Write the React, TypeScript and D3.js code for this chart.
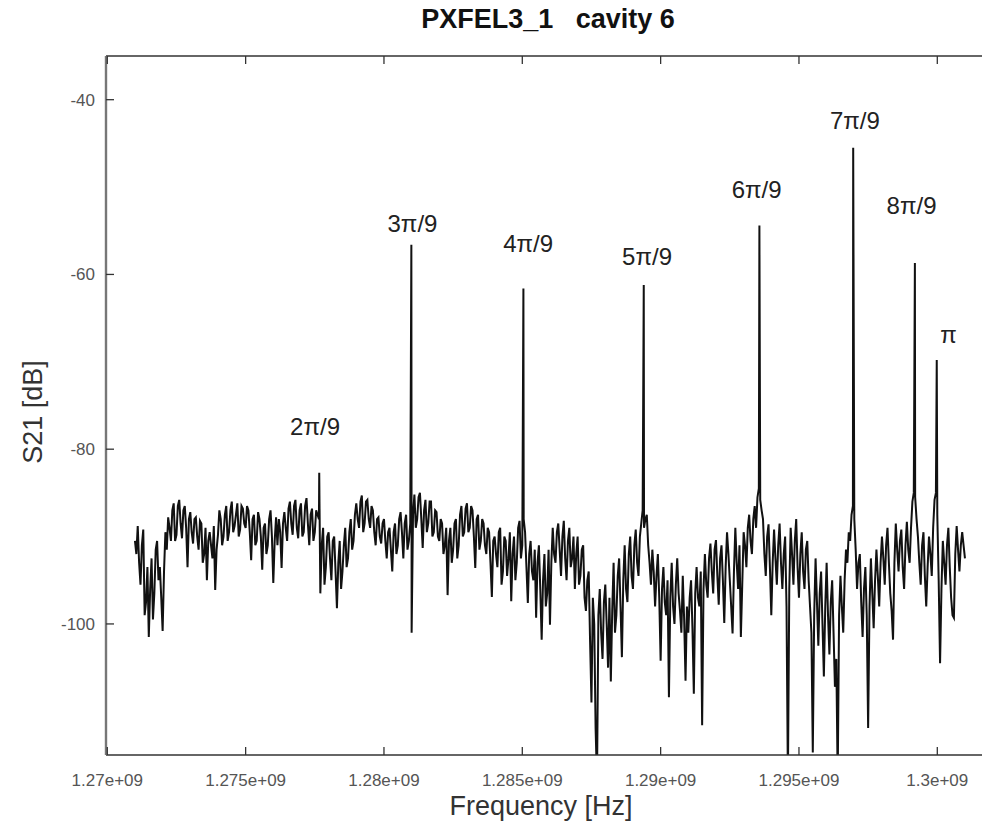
import React from "react";
import * as d3 from "d3";

// Sweep: 1.271 GHz .. 1.301 GHz, 0.05 MHz step
const sweepStart = 1.271e9;
const sweepStep = 5e4;

const s21Trace: number[] = [
  -90.5, -92.0, -88.8, -93.0, -95.5, -91.0, -89.2, -99.0, -97.5, -93.5, -101.5, -96.0, -92.5, -99.5, -96.5, -91.5, -90.5, -95.0, -93.5, -97.0,
  -100.8, -94.0, -89.5, -91.5, -87.8, -89.0, -90.5, -87.0, -86.2, -90.5, -89.8, -86.5, -85.8, -88.5, -90.2, -87.0, -86.5, -89.0, -93.5, -88.0,
  -87.2, -89.5, -90.8, -88.0, -87.8, -90.0, -91.5, -88.2, -88.5, -93.0, -92.0, -89.0, -95.0, -90.5, -89.5, -91.0, -92.5, -88.8, -96.1, -91.5,
  -89.8, -87.0, -88.0, -91.0, -90.0, -87.5, -86.5, -90.5, -89.5, -87.0, -86.0, -89.5, -88.8, -87.5, -86.2, -90.0, -89.2, -86.5, -86.8, -88.5,
  -89.0, -86.5, -87.0, -89.5, -92.7, -88.0, -87.5, -91.0, -90.5, -87.2, -88.0, -90.0, -93.8, -89.0, -88.5, -92.0, -91.0, -88.0, -87.0, -90.0,
  -95.3, -90.5, -87.8, -91.0, -88.0, -89.5, -93.6, -88.5, -87.2, -89.0, -90.5, -86.8, -86.0, -88.5, -89.8, -86.5, -85.8, -89.0, -90.2, -87.0,
  -86.2, -90.0, -89.5, -86.5, -85.6, -88.5, -91.0, -87.5, -86.8, -90.5, -89.5, -87.0, -87.5, -88.0, -96.5, -91.0, -89.0, -95.5, -93.5, -90.0,
  -89.5, -92.5, -95.0, -90.5, -90.0, -94.0, -98.2, -93.0, -90.5, -96.0, -94.0, -91.0, -89.0, -93.5, -92.5, -89.5, -88.0, -91.5, -90.5, -87.5,
  -86.2, -88.0, -89.0, -86.0, -85.3, -89.5, -88.5, -86.0, -85.8, -88.0, -89.0, -86.5, -87.0, -89.5, -91.0, -88.0, -87.8, -90.0, -90.8, -88.5,
  -88.0, -90.5, -92.5, -89.5, -89.0, -91.5, -94.0, -89.5, -88.5, -92.0, -91.0, -88.0, -87.2, -89.5, -92.5, -88.5, -87.5, -91.5, -90.5, -88.5,
  -101.0, -87.5, -85.2, -89.0, -88.0, -85.5, -85.0, -88.0, -91.3, -87.0, -85.8, -89.5, -88.5, -86.0, -86.0, -90.0, -89.5, -87.0, -87.2, -90.0,
  -90.5, -88.0, -88.5, -92.0, -91.0, -89.0, -96.7, -90.5, -89.0, -93.0, -91.5, -88.5, -88.0, -92.5, -91.0, -87.5, -86.5, -90.0, -89.5, -86.8,
  -86.2, -89.5, -89.0, -86.5, -87.0, -90.0, -93.6, -88.0, -87.5, -91.5, -90.5, -88.0, -88.5, -91.0, -92.0, -89.0, -89.5, -93.0, -96.9, -90.5,
  -90.0, -92.0, -93.5, -89.5, -89.0, -95.5, -94.0, -90.0, -90.5, -94.5, -92.5, -89.5, -97.4, -92.0, -90.0, -95.0, -93.0, -89.0, -88.2, -92.5,
  -91.0, -88.0, -89.5, -93.5, -97.6, -92.0, -90.5, -94.0, -95.0, -91.5, -99.3, -93.0, -91.0, -96.0, -101.8, -95.0, -92.0, -98.0, -96.5, -91.5,
  -100.1, -93.0, -89.0, -92.0, -93.0, -89.5, -88.5, -91.5, -94.5, -90.0, -88.2, -92.5, -95.0, -90.5, -89.0, -93.5, -92.5, -90.0, -96.0, -92.0,
  -90.0, -95.5, -94.5, -91.5, -91.0, -97.0, -98.5, -95.0, -94.0, -102.0, -109.0, -97.0, -100.0, -112.0, -118.0, -99.0, -96.0, -101.0, -104.0, -97.5,
  -95.5, -100.0, -105.0, -97.0, -106.6, -98.5, -93.0, -101.0, -99.0, -94.5, -92.5, -98.0, -103.8, -95.0, -91.0, -96.0, -97.5, -92.0, -90.0, -94.5,
  -96.0, -91.0, -89.2, -93.0, -94.5, -90.0, -88.5, -87.0, -89.0, -88.0, -87.5, -91.0, -93.0, -95.5, -91.5, -94.0, -98.0, -94.5, -92.0, -97.0,
  -104.2, -96.0, -93.5, -97.5, -99.0, -95.0, -108.4, -97.0, -93.0, -98.0, -100.0, -95.5, -92.5, -96.5, -98.5, -101.0, -94.5, -99.5, -106.5, -98.0,
  -101.0, -97.0, -95.0, -100.5, -108.0, -96.5, -93.5, -97.0, -98.0, -94.0, -111.6, -96.0, -92.0, -95.5, -97.0, -92.5, -90.8, -94.0, -96.5, -91.5,
  -90.4, -94.5, -97.8, -92.5, -91.0, -95.0, -99.9, -93.5, -89.5, -92.0, -95.0, -98.0, -101.1, -94.0, -89.0, -93.0, -96.0, -91.0, -101.5, -95.5,
  -89.5, -91.0, -93.5, -89.0, -87.5, -90.5, -92.0, -88.0, -86.5, -89.0, -85.5, -84.5, -85.8, -87.0, -88.0, -92.0, -94.5, -90.0, -88.6, -93.5,
  -99.0, -93.0, -89.2, -92.5, -95.5, -91.0, -88.5, -93.0, -96.0, -92.0, -90.0, -98.0, -118.0, -96.0, -89.0, -92.0, -95.5, -90.5, -88.0, -93.5,
  -97.0, -92.0, -89.5, -94.0, -96.0, -91.5, -90.5, -95.0, -98.0, -101.0, -114.7, -99.0, -92.5, -97.5, -102.5, -96.5, -94.0, -100.0, -106.0, -98.0,
  -93.0, -99.0, -103.5, -97.5, -95.0, -101.0, -107.2, -104.0, -118.0, -99.0, -94.5, -98.0, -101.0, -95.0, -91.5, -93.0, -89.5, -90.5, -87.5, -86.5,
  -88.0, -91.5, -96.0, -93.0, -92.0, -97.5, -101.5, -96.0, -93.5, -99.0, -111.9, -98.0, -92.5, -96.5, -100.5, -95.0, -91.5, -94.5, -98.0, -93.0,
  -90.0, -92.5, -95.5, -91.0, -89.0, -93.0, -96.5, -98.5, -101.8, -93.0, -88.5, -91.5, -94.0, -90.5, -89.2, -93.5, -96.0, -91.0, -88.3, -91.5,
  -93.0, -89.0, -86.0, -85.0, -85.5, -88.0, -90.0, -93.0, -95.5, -91.0, -89.5, -94.5, -98.0, -93.5, -90.0, -92.0, -94.5, -89.0, -85.8, -85.0,
  -87.5, -95.0, -104.5, -96.0, -90.5, -93.0, -95.5, -91.0, -89.0, -93.5, -97.0, -99.0, -99.3, -92.0, -88.8, -91.5, -94.0, -91.0, -89.5, -91.0,
  -92.5,
];

// Resonance peaks (passband modes)
const modeFreqs: number[] = [1.27766e9, 1.28099e9, 1.28504e9, 1.28939e9, 1.29357e9, 1.29696e9, 1.29919e9, 1.29998e9];
const modePeaks: number[] = [-82.7, -56.6, -61.6, -61.2, -54.4, -45.5, -58.7, -69.8];

// Mode annotations
const modeLabels: string[] = ["2π/9", "3π/9", "4π/9", "5π/9", "6π/9", "7π/9", "8π/9", "π"];
const labelFreqs: number[] = [1.27751e9, 1.28103e9, 1.28521e9, 1.28951e9, 1.29347e9, 1.29702e9, 1.29907e9, 1.30041e9];
const labelDb: number[] = [-78.4, -55.2, -57.4, -58.9, -51.3, -43.4, -53.1, -67.9];

const xTicks: number[] = [1.27e9, 1.275e9, 1.28e9, 1.285e9, 1.29e9, 1.295e9, 1.3e9];
const xTickLabels: string[] = ["1.27e+09", "1.275e+09", "1.28e+09", "1.285e+09", "1.29e+09", "1.295e+09", "1.3e+09"];
const yTicks: number[] = [-40, -60, -80, -100];
const yTickLabels: string[] = ["-40", "-60", "-80", "-100"];

const W = 982;
const H = 829;
const FONT = "'Liberation Sans', Arial, Helvetica, sans-serif";

export default function App() {
  const left = 106;
  const top = 56;
  const bottom = 755;
  const right = 982;

  const x = d3.scaleLinear().domain([1.27e9, 1.3e9]).range([107.3, 937.3]);
  const y = d3.scaleLinear().domain([-35, -115]).range([top, bottom]);

  const pts: [number, number][] = s21Trace.map((v, i) => [sweepStart + i * sweepStep, v]);
  modeFreqs.forEach((f, k) => pts.push([f, modePeaks[k]]));
  pts.sort((a, b) => a[0] - b[0]);

  const line = d3
    .line<[number, number]>()
    .x((d) => x(d[0]))
    .y((d) => y(d[1]));

  const tick = 8;

  return (
    <svg
      width={W}
      height={H}
      viewBox={`0 0 ${W} ${H}`}
      style={{ position: "absolute", left: 0, top: 0, background: "#fff" }}
    >
      <defs>
        <clipPath id="plotClip">
          <rect x={left} y={top} width={right - left} height={bottom - top} />
        </clipPath>
      </defs>
      <rect x={0} y={0} width={W} height={H} fill="#fff" />

      {/* trace */}
      <g clipPath="url(#plotClip)">
        <path d={line(pts) || ""} fill="none" stroke="#111" strokeWidth={2} strokeLinejoin="miter" />
      </g>

      {/* frame */}
      <line x1={left} x2={right} y1={top} y2={top} stroke="#333" strokeWidth={1.6} />
      <line x1={left} x2={right} y1={bottom} y2={bottom} stroke="#333" strokeWidth={1.6} />
      <line x1={left} x2={left} y1={top} y2={bottom} stroke="#777" strokeWidth={2.4} />

      {/* x ticks */}
      {xTicks.map((t, i) => (
        <g key={"xt" + i}>
          <line x1={x(t)} x2={x(t)} y1={bottom} y2={bottom - tick} stroke="#333" strokeWidth={1.3} />
          <line x1={x(t)} x2={x(t)} y1={top} y2={top + tick} stroke="#333" strokeWidth={1.3} />
          <text x={x(t)} y={786} textAnchor="middle" fontFamily={FONT} fontSize={17} fill="#555">
            {xTickLabels[i]}
          </text>
        </g>
      ))}

      {/* y ticks */}
      {yTicks.map((t, i) => (
        <g key={"yt" + i}>
          <line x1={left} x2={left + tick} y1={y(t)} y2={y(t)} stroke="#333" strokeWidth={1.3} />
          <text x={95} y={y(t)} dy="0.35em" textAnchor="end" fontFamily={FONT} fontSize={17} fill="#555">
            {yTickLabels[i]}
          </text>
        </g>
      ))}

      {/* mode labels */}
      {modeLabels.map((lab, i) => (
        <text
          key={"ml" + i}
          x={x(labelFreqs[i])}
          y={y(labelDb[i])}
          textAnchor="middle"
          fontFamily={FONT}
          fontSize={24}
          fill="#222"
        >
          {lab}
        </text>
      ))}

      {/* titles */}
      <text x={548} y={28} textAnchor="middle" fontFamily={FONT} fontSize={27} fontWeight="bold" fill="#111">
        {"PXFEL3_1\u00a0\u00a0\u00a0cavity 6"}
      </text>
      <text x={541} y={815} textAnchor="middle" fontFamily={FONT} fontSize={27} fill="#333">
        Frequency [Hz]
      </text>
      <text
        transform={`translate(42, 412) rotate(-90)`}
        textAnchor="middle"
        fontFamily={FONT}
        fontSize={27}
        fill="#333"
      >
        S21 [dB]
      </text>
    </svg>
  );
}
